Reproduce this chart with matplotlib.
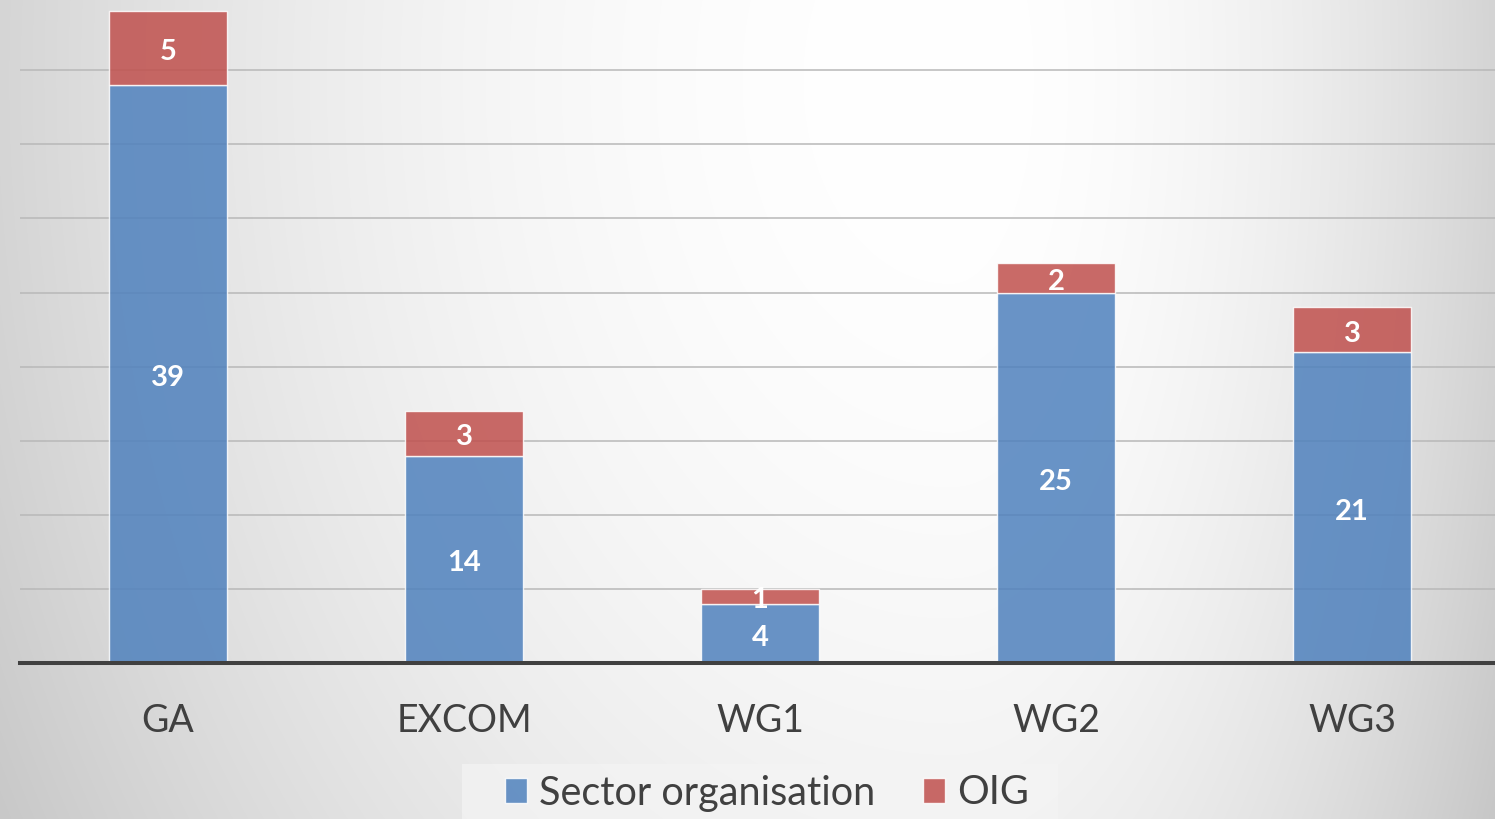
import numpy as np
import matplotlib
matplotlib.use("Agg")
import matplotlib.pyplot as plt
from matplotlib.patches import Patch, Rectangle

categories = ['GA', 'EXCOM', 'WG1', 'WG2', 'WG3']
sector = [39, 14, 4, 25, 21]
oig = [5, 3, 1, 2, 3]
series_names = ['Sector organisation', 'OIG']

plt.rcParams['font.family'] = ['Lato', 'DejaVu Sans']

W, H = 1495, 819
fig = plt.figure(figsize=(W / 100, H / 100), dpi=100)

# background radial gradient
bg = fig.add_axes([0, 0, 1, 1], zorder=0)
yy, xx = np.mgrid[0:H, 0:W]
cx, cy = 950, 80
a = np.where(xx < cx, 1090.0, 617.0)
b = 1508.0
r2 = ((xx - cx) / a) ** 2 + ((yy - cy) / b) ** 2
v = (255 - 55 * np.clip(r2, 0, 1.1)) / 255.0
bg.imshow(np.dstack([v, v, v]), aspect='auto', extent=[0, W, H, 0], interpolation='bilinear')
bg.set_xlim(0, W)
bg.set_ylim(H, 0)
bg.axis('off')
# legend backdrop
bg.add_patch(Rectangle((462, 764), 596, 60, facecolor='#f4f4f4', alpha=0.7, edgecolor='none'))

# main axes
base_y = 663
px_per_unit = 14.82
ax = fig.add_axes([20 / W, (H - base_y) / H, 1480 / W, base_y / H], zorder=1)
ax.patch.set_alpha(0)
x = np.arange(len(categories))
blue = '#4f81bd'
red = '#c0504d'
b1 = ax.bar(x, sector, width=0.4, color=blue, alpha=0.85, edgecolor=(1, 1, 1, 0.6), linewidth=1, zorder=2)
b2 = ax.bar(x, oig, width=0.4, bottom=sector, color=red, alpha=0.85, edgecolor=(1, 1, 1, 0.6), linewidth=1, zorder=2)
ax.set_xlim(-0.5, 4.5)
ax.set_ylim(0, base_y / px_per_unit)
ax.set_yticks(np.arange(5, 45, 5))
ax.yaxis.grid(True, color='#b8b8b8', linewidth=1.1, zorder=0)
ax.set_axisbelow(True)
ax.tick_params(axis='y', left=False, labelleft=False)
for s in ax.spines.values():
    s.set_visible(False)
ax.axhline(0, color='#404040', linewidth=2.9, zorder=3, clip_on=False)

ax.set_xticks(x)
ax.set_xticklabels(categories, fontsize=27, color='#404040')
ax.tick_params(axis='x', length=0, pad=49.5)
for lbl in ax.get_xticklabels():
    lbl.set_va('baseline')

for cont in (b1, b2):
    ax.bar_label(cont, label_type='center', color='white', fontweight='bold', fontsize=21, padding=-3)

handles = [Patch(facecolor=blue, alpha=0.85, edgecolor=(1, 1, 1, 0.6)),
           Patch(facecolor=red, alpha=0.85, edgecolor=(1, 1, 1, 0.6))]
leg = fig.legend(handles, series_names, loc='center', bbox_to_anchor=(767 / W, 1 - 793 / H), ncol=2,
                 frameon=False, fontsize=28.5, labelcolor='#404040', handlelength=0.56, handleheight=0.56,
                 handletextpad=0.3, columnspacing=1.2, borderaxespad=0, borderpad=0)

fig.savefig('out.png', dpi=100)
